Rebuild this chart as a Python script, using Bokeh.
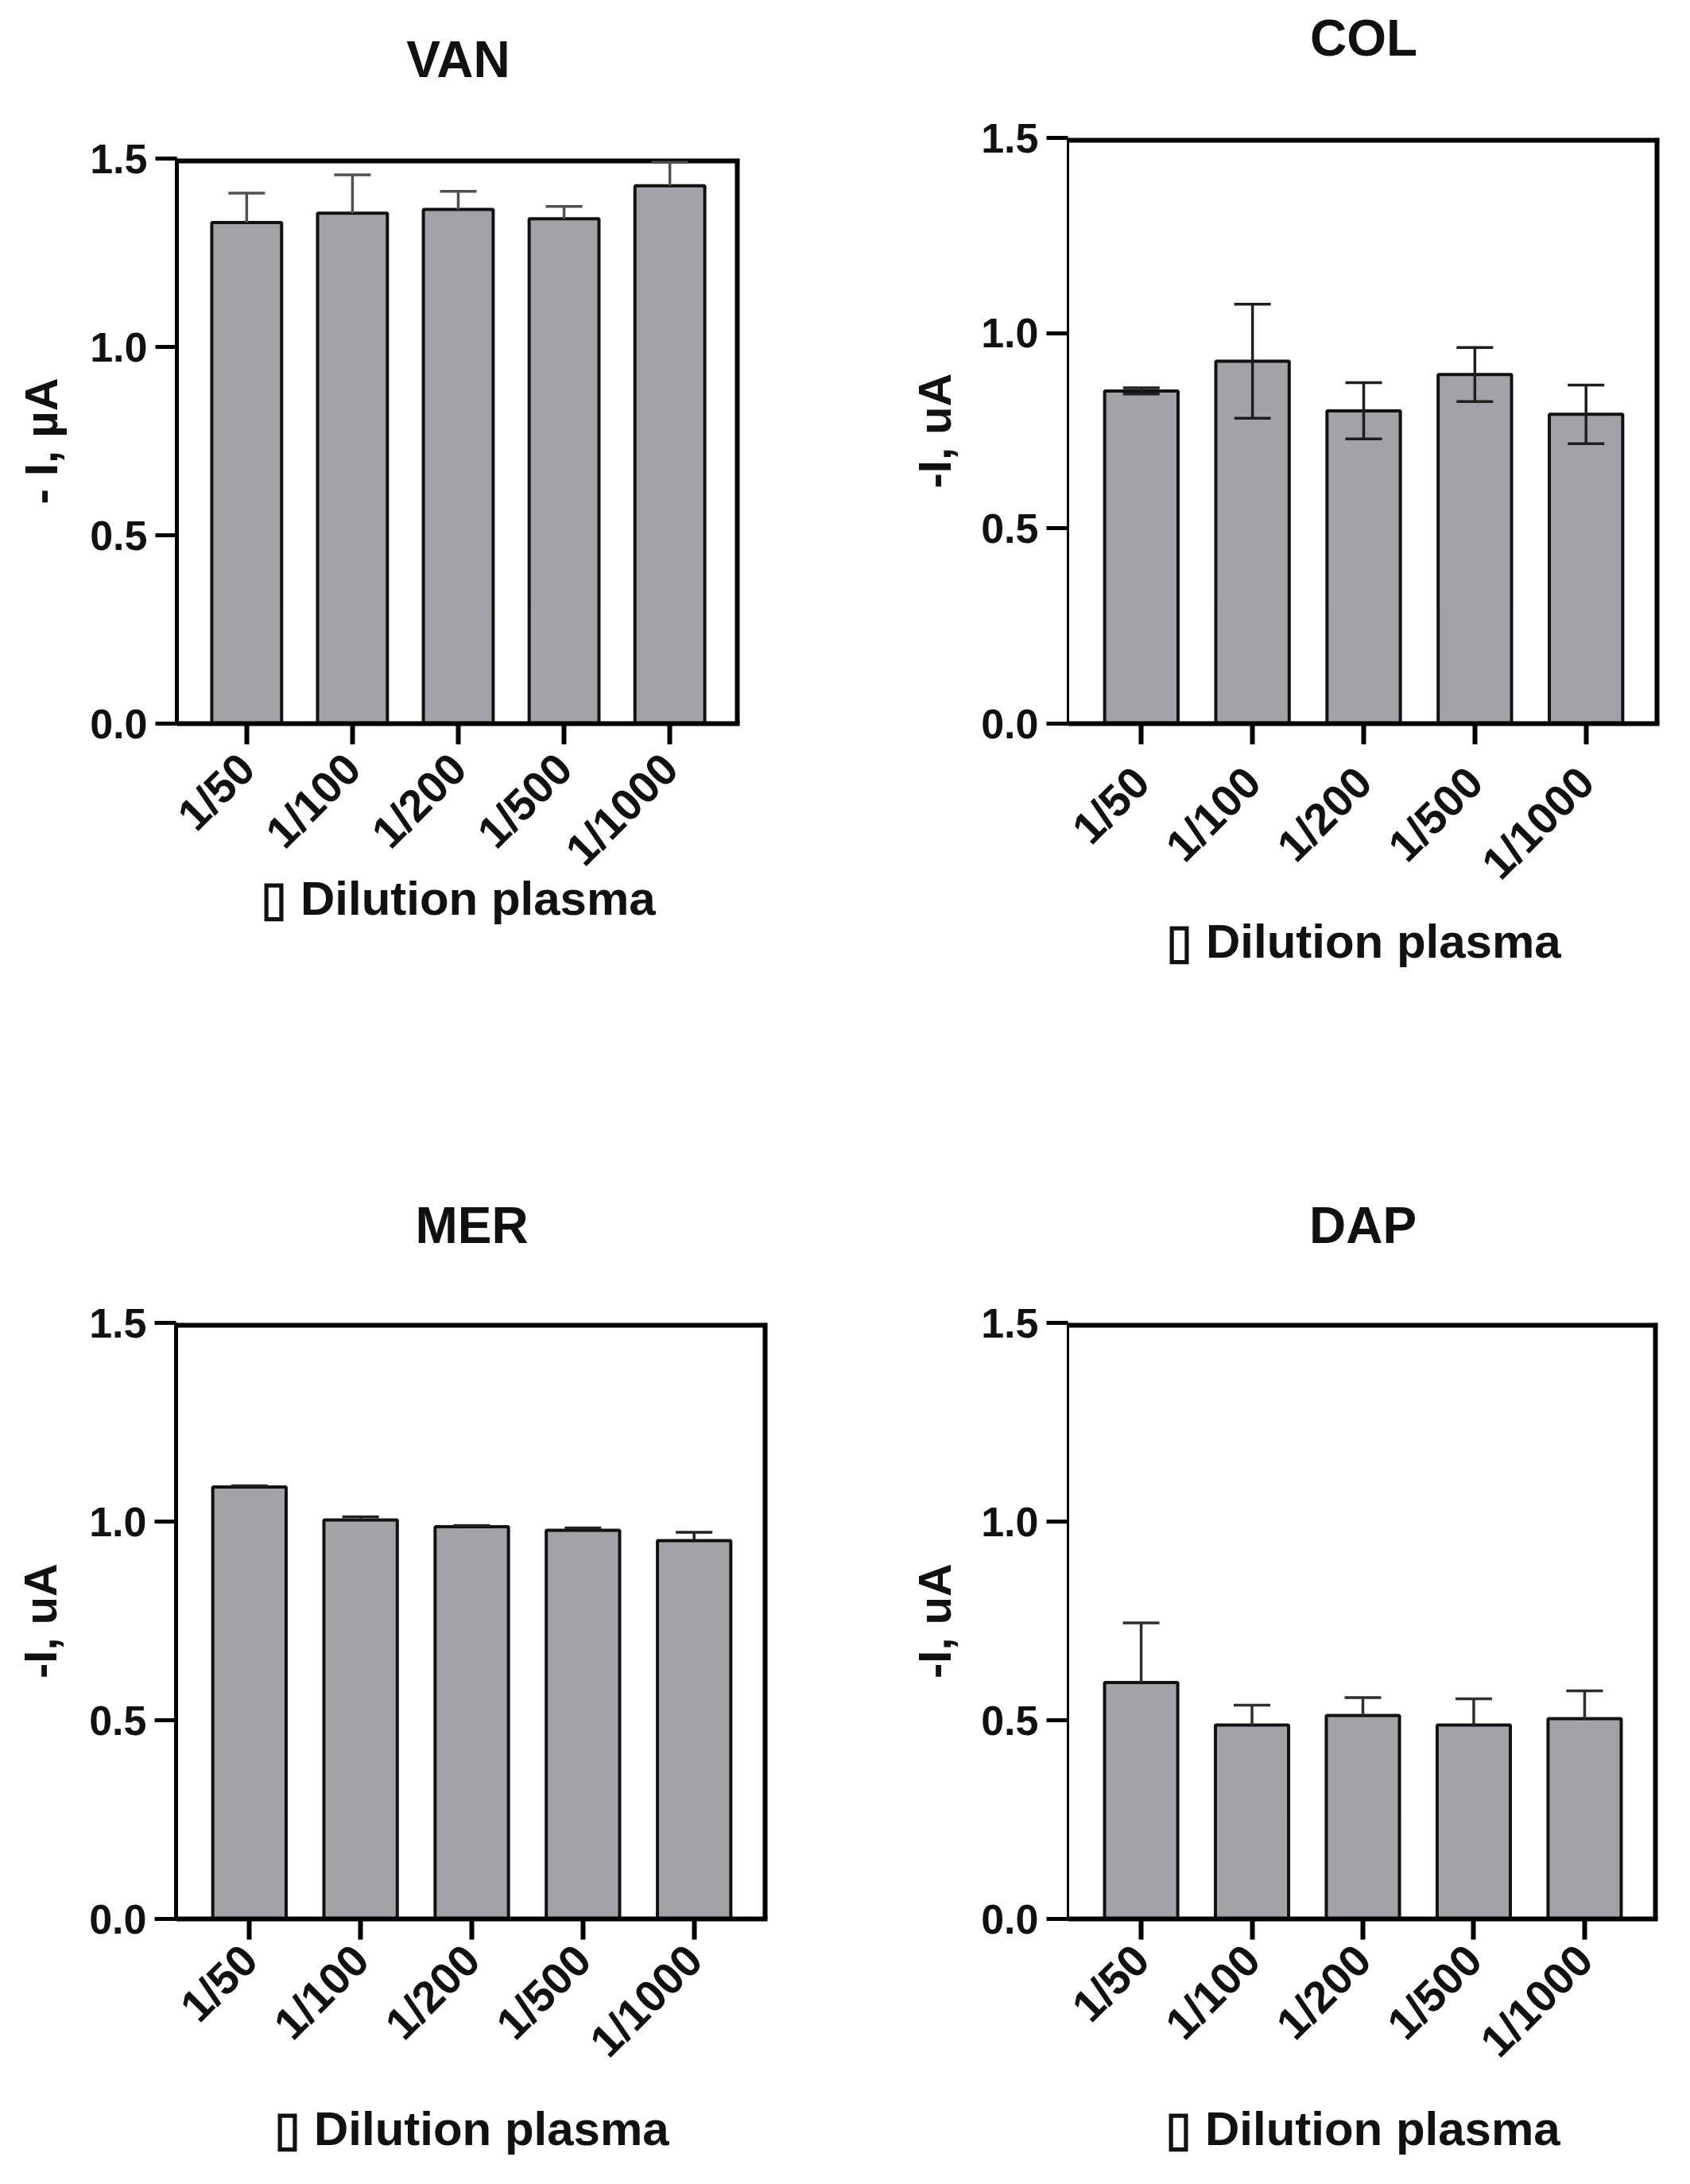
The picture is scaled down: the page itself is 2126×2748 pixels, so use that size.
from math import pi

from bokeh.plotting import figure
from bokeh.layouts import column, row
from bokeh.models import (ColumnDataSource, Range1d, FixedTicker, PrintfTickFormatter,
                          LinearAxis, Whisker, TeeHead, Span, Spacer)
from bokeh.embed import file_html
from bokeh.resources import INLINE

# dilution of the plasma samples (x categories)
dilutions = ["1/50", "1/100", "1/200", "1/500", "1/1000"]

# -I (uA), mean and SD
van_mean = [1.330, 1.355, 1.365, 1.340, 1.428]
van_sd = [0.078, 0.102, 0.048, 0.033, 0.062]

col_mean = [0.852, 0.928, 0.801, 0.894, 0.792]
col_sd = [0.008, 0.146, 0.072, 0.069, 0.075]

mer_mean = [1.087, 1.004, 0.987, 0.978, 0.952]
mer_sd = [0.003, 0.008, 0.003, 0.006, 0.021]

dap_mean = [0.595, 0.488, 0.512, 0.488, 0.504]
dap_sd = [0.150, 0.050, 0.045, 0.066, 0.070]

y_ticks = [0.0, 0.5, 1.0, 1.5]

FONT = "Liberation Sans"
BAR_FILL = "#a3a3a7"


def make_panel(name, ylabel, means, sds, two_sided, err_color, size, border,
               y_line=5, ylab_off=26, xtick_off=12, xlab_off=0, title_off=78):
    w, h = size
    l, r, t, b = border
    p = figure(width=w, height=h,
               x_range=Range1d(-0.66, 4.66), y_range=Range1d(0, 1.5),
               min_border_left=l, min_border_right=r,
               min_border_top=t, min_border_bottom=b,
               output_backend="svg", toolbar_location=None)
    p.grid.visible = False
    p.outline_line_color = None

    x = list(range(len(dilutions)))
    upper = [m + s for m, s in zip(means, sds)]
    lower = [m - s if two_sided else m for m, s in zip(means, sds)]
    src = ColumnDataSource(data=dict(x=x, top=means, upper=upper, lower=lower))

    p.vbar(x="x", top="top", width=0.66, source=src,
           fill_color=BAR_FILL, line_color="#111111", line_width=4)

    low_head = TeeHead(size=46, line_color=err_color, line_width=3.5) if two_sided else None
    wh = Whisker(base="x", upper="upper", lower="lower", source=src,
                 line_color=err_color, line_width=3.5, level="overlay",
                 upper_head=TeeHead(size=46, line_color=err_color, line_width=3.5),
                 lower_head=low_head)
    p.add_layout(wh)

    # thick top and right edges of the box (half is clipped by the frame)
    p.add_layout(Span(location=p.y_range.end, dimension="width",
                      line_color="black", line_width=12))
    p.add_layout(Span(location=p.x_range.end, dimension="height",
                      line_color="black", line_width=12))

    xa = p.below[0]
    xa.ticker = FixedTicker(ticks=x)
    xa.major_label_overrides = {i: d for i, d in enumerate(dilutions)}
    xa.major_label_orientation = pi / 4
    xa.axis_line_width = 6
    xa.axis_line_color = "black"
    xa.major_tick_out = 26
    xa.major_tick_in = 0
    xa.major_tick_line_width = 6
    xa.minor_tick_line_color = None
    xa.major_label_standoff = xtick_off
    xa.major_label_text_font = FONT
    xa.major_label_text_font_style = "bold"
    xa.major_label_text_font_size = "56px"
    xa.major_label_text_color = "#111111"
    xa.axis_label = "\u25af Dilution plasma"
    xa.axis_label_text_font = FONT
    xa.axis_label_text_font_style = "bold"
    xa.axis_label_text_font_size = "60px"
    xa.axis_label_text_color = "#111111"
    xa.axis_label_standoff = xlab_off

    ya = p.left[0]
    ya.ticker = FixedTicker(ticks=y_ticks)
    ya.formatter = PrintfTickFormatter(format="%.1f")
    ya.axis_line_width = y_line
    ya.axis_line_color = "black"
    ya.major_tick_out = 27
    ya.major_tick_in = 0
    ya.major_tick_line_width = 5
    ya.minor_tick_line_color = None
    ya.major_label_standoff = 10
    ya.major_label_text_font = FONT
    ya.major_label_text_font_style = "bold"
    ya.major_label_text_font_size = "52px"
    ya.major_label_text_color = "#111111"
    ya.axis_label = ylabel
    ya.axis_label_text_font = FONT
    ya.axis_label_text_font_style = "bold"
    ya.axis_label_text_font_size = "58px"
    ya.axis_label_text_color = "#111111"
    ya.axis_label_standoff = ylab_off

    # panel name above the box, as the label of a bare top axis
    ta = LinearAxis(ticker=FixedTicker(ticks=[]), axis_line_color=None,
                    major_tick_out=0, major_tick_in=0, minor_tick_out=0,
                    minor_tick_line_color=None, major_tick_line_color=None,
                    major_label_standoff=0, major_label_text_font_size="0px",
                    axis_label=name, axis_label_standoff=title_off,
                    axis_label_text_font=FONT, axis_label_text_font_style="bold",
                    axis_label_text_font_size="64px", axis_label_text_color="#111111")
    p.add_layout(ta, "above")
    return p


# VAN sits lower than COL, so it gets a spacer above it
van = make_panel("VAN", "- I, \u00b5A", van_mean, van_sd, False, "#505050",
                 (1100, 1278), (222, 170, 179, 388), y_line=5,
                 xtick_off=21, xlab_off=-29, title_off=89)
col = make_panel("COL", "-I, uA", col_mean, col_sd, True, "#1e1e1e",
                 (1018, 1298), (243, 31, 173, 388), y_line=3, ylab_off=23,
                 xtick_off=38, xlab_off=8, title_off=90)
mer = make_panel("MER", "-I, uA", mer_mean, mer_sd, False, "#222222",
                 (1100, 1442), (221, 135, 366, 326), y_line=5,
                 xtick_off=16, xlab_off=20, title_off=87)
dap = make_panel("DAP", "-I, uA", dap_mean, dap_sd, False, "#2e2e2e",
                 (1018, 1442), (243, 33, 366, 326), y_line=3, ylab_off=23,
                 xtick_off=16, xlab_off=20, title_off=87)

layout = column(row(column(Spacer(width=1100, height=20), van), col), row(mer, dap))

open("out.html", "w").write(file_html(layout, INLINE))
